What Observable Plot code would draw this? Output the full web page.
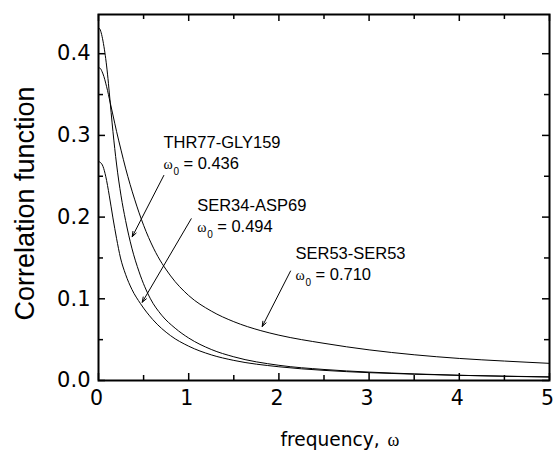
<!DOCTYPE html>
<html><head><meta charset="utf-8">
<script src="https://cdn.jsdelivr.net/npm/d3@7"></script>
<script src="https://cdn.jsdelivr.net/npm/@observablehq/plot@0.6"></script>
<style>body{margin:0;background:#fff}</style>
</head><body><div id="chart"></div>
<script>
// Curve values: [frequency, correlation]
const thr77 = [[0,0.432],[0.02,0.429],[0.04,0.421],[0.06,0.409],[0.08,0.394],[0.1,0.375],[0.12,0.352],[0.14,0.328],[0.16,0.305],[0.2,0.265],[0.25,0.226],[0.3,0.196],[0.37,0.162],[0.45,0.133],[0.576,0.1],[0.7,0.08],[0.85,0.064],[1.0,0.052],[1.25,0.038],[1.5,0.029],[2.0,0.0186],[2.5,0.0135],[3.0,0.0103],[3.5,0.0081],[4.0,0.0064],[4.5,0.0052],[5.0,0.0042]];
const ser34 = [[0,0.268],[0.02,0.267],[0.05,0.262],[0.08,0.25],[0.12,0.226],[0.16,0.199],[0.2,0.174],[0.244,0.15],[0.3,0.13],[0.37,0.1116],[0.466,0.094],[0.6,0.0748],[0.8,0.0548],[1.0,0.042],[1.25,0.0314],[1.5,0.0246],[2.0,0.0168],[2.5,0.0124],[3.0,0.0096],[3.5,0.0077],[4.0,0.0063],[4.5,0.0053],[5.0,0.0045]];
const ser53 = [[0,0.383],[0.02,0.382],[0.04,0.378],[0.06,0.372],[0.08,0.364],[0.1,0.355],[0.12,0.345],[0.16,0.325],[0.2,0.305],[0.25,0.282],[0.3,0.26],[0.4,0.222],[0.5,0.19],[0.61,0.162],[0.8,0.128],[1.0,0.104],[1.25,0.085],[1.5,0.072],[1.8,0.061],[2.0,0.0555],[2.5,0.0455],[3.0,0.0375],[3.5,0.0315],[4.0,0.027],[4.5,0.0238],[5.0,0.021]];

const seriesNames = ["THR77-GLY159", "SER34-ASP69", "SER53-SER53"];
const omega0 = ["0.436", "0.494", "0.710"];
// annotation text anchors and arrows (data coordinates)
const labelX = [0.72, 1.094, 2.184];
const labelY = [0.284, 0.208, 0.149];
const arrowFrom = [[0.724, 0.251], [1.028, 0.198], [2.129, 0.134]];
const arrowTo = [[0.374, 0.176], [0.485, 0.0958], [1.815, 0.0661]];

const xMajor = [0, 1, 2, 3, 4, 5];
const xMinor = [0.5, 1.5, 2.5, 3.5, 4.5];
const yMajor = [0, 0.1, 0.2, 0.3, 0.4];
const yMinor = [0.05, 0.15, 0.25, 0.35];

const W = 554, H = 450, mL = 98, mR = 5, mT = 14, mB = 70;
const pw = W - mL - mR, ph = H - mT - mB;
const majorLen = 7, minorLen = 5;
const wide = "'DejaVu Sans', Verdana, sans-serif";
const serif = "'Liberation Serif', 'Times New Roman', serif";

const curves = [
  ...thr77.map(([x, y]) => ({s: seriesNames[0], x, y})),
  ...ser34.map(([x, y]) => ({s: seriesNames[1], x, y})),
  ...ser53.map(([x, y]) => ({s: seriesNames[2], x, y}))
];
const ann = seriesNames.map((name, i) => ({name, w: omega0[i], x: labelX[i], y: labelY[i],
  x1: arrowFrom[i][0], y1: arrowFrom[i][1], x2: arrowTo[i][0], y2: arrowTo[i][1]}));

const tickStyle = {stroke: "black", strokeWidth: 1.5};
const chart = Plot.plot({
  width: W, height: H, marginLeft: mL, marginRight: mR, marginTop: mT, marginBottom: mB,
  style: {fontFamily: "'Liberation Sans', Arial, sans-serif", background: "white", color: "black", overflow: "visible"},
  x: {domain: [0, 5]},
  y: {domain: [0, 0.448]},
  marks: [
    Plot.axisX({ticks: xMajor, tickSize: 0, tickPadding: 10, fontSize: 20.5, dx: -2, fontFamily: wide, tickFormat: d => String(d), label: null}),
    Plot.axisY({ticks: yMajor, tickSize: 0, tickPadding: 8, fontSize: 21, fontFamily: wide, tickFormat: d => d.toFixed(1), label: null}),
    // inward ticks on all four sides
    Plot.tickY(yMajor, {y: d => d, insetRight: pw - majorLen, ...tickStyle}),
    Plot.tickY(yMinor, {y: d => d, insetRight: pw - minorLen, ...tickStyle}),
    Plot.tickY(yMajor, {y: d => d, insetLeft: pw - majorLen, ...tickStyle}),
    Plot.tickY(yMinor, {y: d => d, insetLeft: pw - minorLen, ...tickStyle}),
    Plot.tickX(xMajor, {x: d => d, insetTop: ph - majorLen, ...tickStyle}),
    Plot.tickX(xMinor, {x: d => d, insetTop: ph - minorLen, ...tickStyle}),
    Plot.tickX(xMajor, {x: d => d, insetBottom: ph - majorLen, ...tickStyle}),
    Plot.tickX(xMinor, {x: d => d, insetBottom: ph - minorLen, ...tickStyle}),
    Plot.line(curves, {x: "x", y: "y", z: "s", curve: "monotone-x", stroke: "black", strokeWidth: 1}),
    Plot.frame({stroke: "black", strokeWidth: 2}),
    // annotations
    Plot.arrow(ann, {x1: "x1", y1: "y1", x2: "x2", y2: "y2", stroke: "black", strokeWidth: 1, headLength: 8, headAngle: 40}),
    Plot.text(ann, {x: "x", y: "y", text: "name", textAnchor: "start", lineAnchor: "bottom", fontSize: 16.5}),
    Plot.text(ann, {x: "x", y: "y", text: () => "ω", textAnchor: "start", lineAnchor: "bottom", dy: 21, fontSize: 14, fontFamily: serif}),
    Plot.text(ann, {x: "x", y: "y", text: () => "0", textAnchor: "start", lineAnchor: "bottom", dx: 10, dy: 27, fontSize: 10}),
    Plot.text(ann, {x: "x", y: "y", text: d => "= " + d.w, textAnchor: "start", lineAnchor: "bottom", dx: 20, dy: 21, fontSize: 16.5}),
    // axis titles
    Plot.text(["Correlation function"], {frameAnchor: "left", text: d => d, rotate: -90, textAnchor: "middle", lineAnchor: "bottom", dx: -65, dy: 6, fontSize: 27}),
    Plot.text(["frequency,"], {frameAnchor: "bottom", text: d => d, textAnchor: "start", lineAnchor: "bottom", dx: -43.5, dy: 65, fontSize: 18.6, fontFamily: wide}),
    Plot.text(["ω"], {frameAnchor: "bottom", text: d => d, textAnchor: "start", lineAnchor: "bottom", dx: 63.5, dy: 65, fontSize: 18, fontFamily: serif})
  ]
});
document.getElementById("chart").append(chart);
</script>
</body></html>
